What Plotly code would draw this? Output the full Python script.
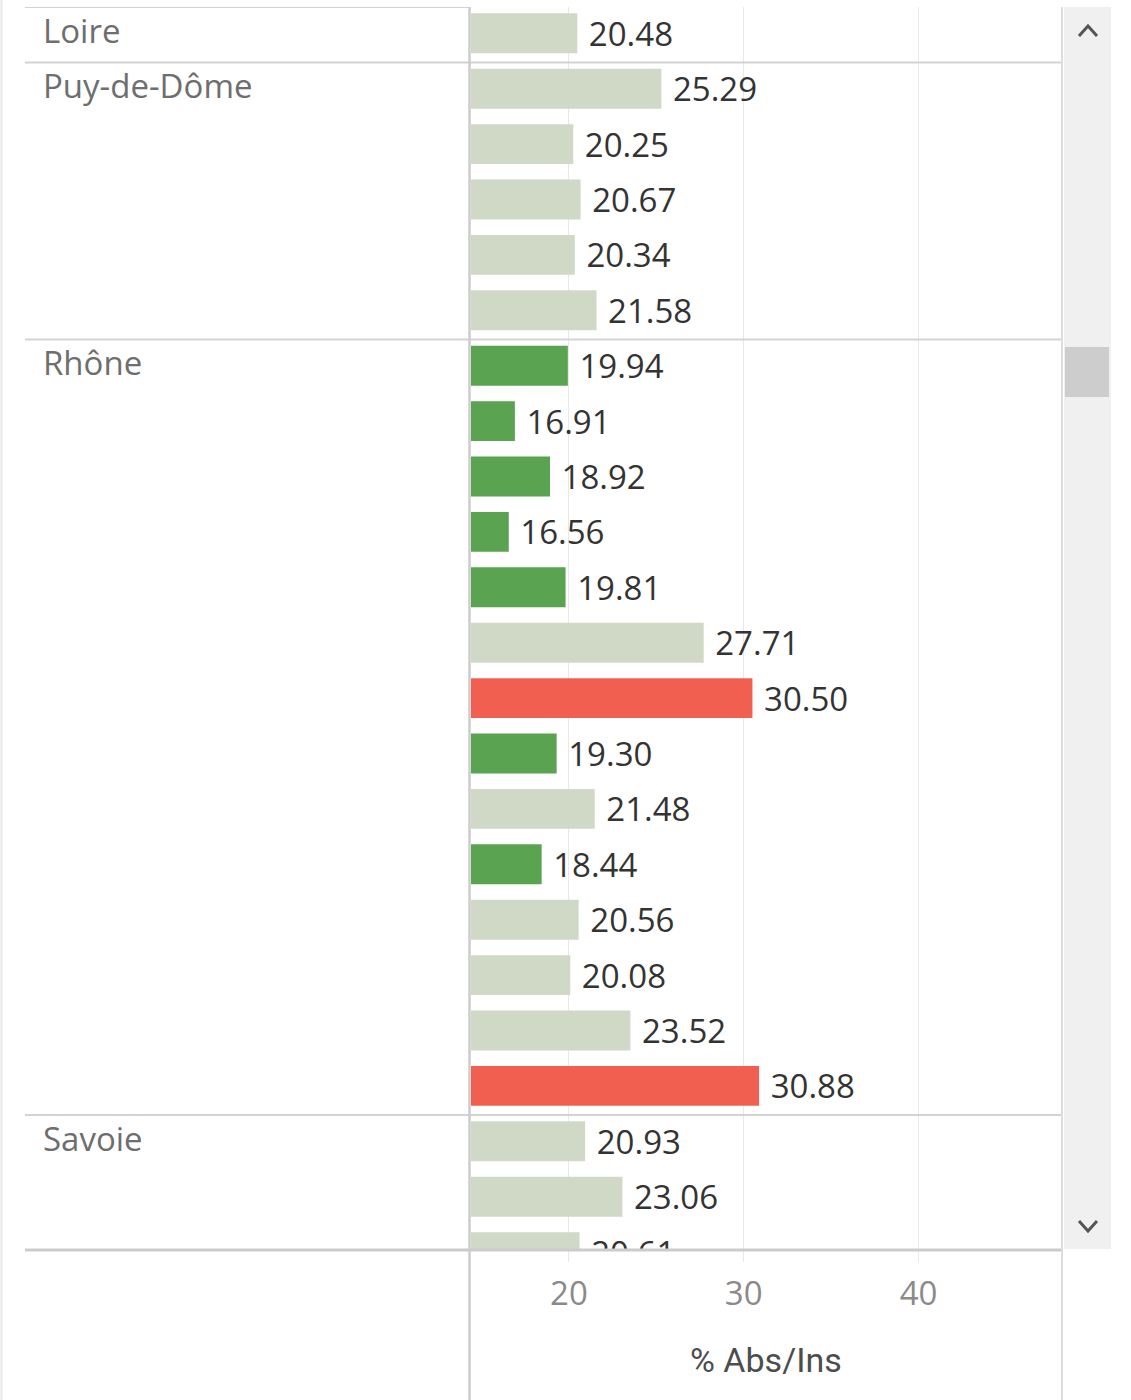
import plotly.graph_objects as go

# ---- data ----
groups = ["Loire", "Puy-de-Dôme", "Rhône", "Savoie"]
loire_values = [20.48]
puy_de_dome_values = [25.29, 20.25, 20.67, 20.34, 21.58]
rhone_values = [19.94, 16.91, 18.92, 16.56, 19.81, 27.71, 30.50, 19.30,
                21.48, 18.44, 20.56, 20.08, 23.52, 30.88]
savoie_values = [20.93, 23.06, 20.61]
group_values = [loire_values, puy_de_dome_values, rhone_values, savoie_values]
axis_ticks = [20, 30, 40]
axis_title = "% Abs/Ins"

# ---- styles ----
W, H = 1131, 1400
C_LIGHT = "#D0D9C6"
C_GREEN = "#59A351"
C_RED = "#F15F51"
FONT = "Open Sans"


def px(x):
    return x / W


def py(y):
    return 1 - y / H


values, rows, colors = [], [], []
group_start = []
r = 0
for vals in group_values:
    group_start.append(r)
    for v in vals:
        values.append(v)
        rows.append(r)
        colors.append(C_GREEN if v < 20 else (C_RED if v > 30 else C_LIGHT))
        r += 1

fig = go.Figure()
fig.add_trace(go.Bar(
    x=values, y=rows, orientation="h", width=0.72, offset=-0.385,
    marker=dict(color=colors, line=dict(width=0)),
    text=[f"\u00a0{v:.2f}" for v in values],
    textposition="outside", constraintext="none", cliponaxis=True,
    textfont=dict(family=FONT, size=33, color="#333333"),
    hoverinfo="skip",
))

x_left, x_right = 471, 1061
y_top, y_bot = 7, 1249
row_h = 55.4
n_visible = (y_bot - y_top) / row_h

fig.update_layout(
    width=W, height=H, margin=dict(l=0, r=0, t=0, b=0),
    paper_bgcolor="white", plot_bgcolor="white", showlegend=False,
    xaxis=dict(domain=[px(x_left), px(x_right)], range=[14.4, 48.15],
               tickvals=axis_ticks, ticktext=[str(t) for t in axis_ticks],
               showgrid=True, gridcolor="#e8e8e8", gridwidth=1,
               ticks="outside", ticklen=12, tickcolor="#e8e8e8", tickwidth=1,
               zeroline=False, showline=False, ticklabelstandoff=3,
               tickfont=dict(family=FONT, size=33, color="#8a8a8a"),
               fixedrange=True),
    yaxis=dict(domain=[py(y_bot), py(y_top)],
               range=[-0.5 + n_visible, -0.5],
               showgrid=False, zeroline=False, showticklabels=False,
               showline=False, fixedrange=True),
)

shapes = []
line_c = "#d3d3d3"
# far left border
shapes.append(dict(type="line", xref="paper", yref="paper", x0=px(1.5), x1=px(1.5),
                   y0=0, y1=1, line=dict(color="#e8e8e8", width=2)))
# top border of label pane
shapes.append(dict(type="line", xref="paper", yref="y", x0=px(25), x1=px(470),
                   y0=-0.5, y1=-0.5, line=dict(color=line_c, width=2)))
# group separators
for gs in group_start[1:]:
    shapes.append(dict(type="line", xref="paper", yref="y", x0=px(25), x1=px(x_right),
                       y0=gs - 0.5, y1=gs - 0.5, line=dict(color=line_c, width=2)))
# axis line
shapes.append(dict(type="line", xref="paper", yref="paper", x0=px(25), x1=px(x_right),
                   y0=py(y_bot + 1), y1=py(y_bot + 1), line=dict(color="#cbcbcb", width=3)))
# pane borders
shapes.append(dict(type="line", xref="paper", yref="paper", x0=px(469.5), x1=px(469.5),
                   y0=0, y1=py(y_top), line=dict(color="#cccccc", width=2.5)))
shapes.append(dict(type="line", xref="paper", yref="paper", x0=px(1062), x1=px(1062),
                   y0=0, y1=py(y_top), line=dict(color="#dddddd", width=2)))
# scrollbar
shapes.append(dict(type="rect", xref="paper", yref="paper", x0=px(1064), x1=px(1111),
                   y0=py(y_bot), y1=py(y_top), fillcolor="#f0f0f0", line=dict(width=0)))
shapes.append(dict(type="rect", xref="paper", yref="paper", x0=px(1065), x1=px(1109),
                   y0=py(397), y1=py(347), fillcolor="#cdcdcd", line=dict(width=0)))


def chev(points):
    d = "M " + " L ".join(f"{px(a)},{py(b)}" for a, b in points)
    return dict(type="path", xref="paper", yref="paper", path=d,
                line=dict(color="#555555", width=3))


shapes.append(chev([(1079, 36), (1088, 26), (1097, 36)]))
shapes.append(chev([(1079, 1221), (1088, 1231), (1097, 1221)]))
fig.update_layout(shapes=shapes)

annotations = []
for g, gs in zip(groups, group_start):
    annotations.append(dict(text=g, xref="paper", yref="y", x=px(41), y=gs - 0.08,
                            xanchor="left", yanchor="middle", showarrow=False,
                            font=dict(family=FONT, size=33, color="#6e6e6e")))
annotations.append(dict(text=axis_title, xref="paper", yref="paper",
                        x=px((x_left + x_right) / 2), y=py(1360),
                        xanchor="center", yanchor="middle", showarrow=False,
                        font=dict(family="Roboto", size=34, color="#4d4d4d")))
fig.update_layout(annotations=annotations)

fig.write_html("out.html", config={"displayModeBar": False},
               post_script="document.body.style.margin='0px';document.body.style.overflow='hidden';")
